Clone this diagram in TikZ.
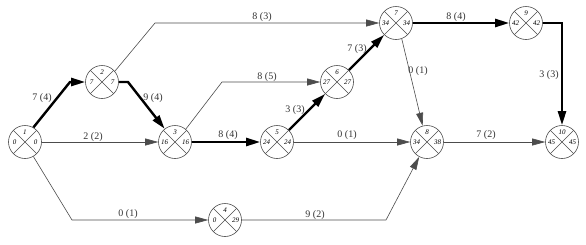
\documentclass[tikz,border=0pt]{standalone}
\usepackage{fontspec}
\setmainfont{Liberation Serif}
\usetikzlibrary{arrows.meta}
\newcommand\evt[5]{%
  \node[ev] (#1) at (#2) {};
  \path (#1) ++(0,-10) node[num] (#1t) {#3};
  \path (#1) ++(-10.5,0.5) node[num] (#1l) {#4};
  \path (#1) ++(10.5,0.5) node[num] (#1r) {#5};
}
\begin{document}
\begin{tikzpicture}[x=1pt,y=-1pt,
  ev/.style={circle,draw=black!70,line width=0.6pt,minimum size=33pt,inner sep=0pt,
    path picture={\draw[black!70,line width=0.5pt]
      (path picture bounding box.north west) -- (path picture bounding box.south east)
      (path picture bounding box.north east) -- (path picture bounding box.south west);}},
  num/.style={font=\fontsize{7}{7}\selectfont\itshape,inner sep=0pt},
  tedge/.style={draw=black!70,line width=0.6pt,-{Triangle[length=13pt,width=7pt]}},
  cedge/.style={draw=black,line width=2.4pt,-{Triangle[length=14pt,width=8pt]}},
  lbl/.style={font=\fontsize{10}{10}\selectfont,text=black!80,inner sep=0pt}
]
\useasboundingbox (0,0) rectangle (586,244);

\evt{n1}{25,142}{1}{0}{0}
\evt{n2}{102,82}{2}{7}{7}
\evt{n3}{175,142}{3}{16}{16}
\evt{n4}{225,220}{4}{0}{29}
\evt{n5}{277,142}{5}{24}{24}
\evt{n6}{337,82}{6}{27}{27}
\evt{n7}{396,23}{7}{34}{34}
\evt{n8}{427,142}{8}{34}{38}
\evt{n9}{526,23}{9}{42}{42}
\evt{n10}{562,142}{10}{45}{45}

\coordinate (c12) at (70,82);
\coordinate (c23) at (128,82);
\coordinate (c27) at (155,23);
\coordinate (c14) at (72,220);
\coordinate (c36) at (222,82);
\coordinate (c48) at (386,220);
\coordinate (c910) at (562,23);

% critical path
\draw[cedge] (n1.60) -- (c12) -- (n2);
\draw[cedge] (n2) -- (c23) -- (n3);
\draw[cedge] (n3) -- (n5);
\draw[cedge] (n5) -- (n6);
\draw[cedge] (n6) -- (n7);
\draw[cedge] (n7) -- (n9);
\draw[cedge] (n9) -- (c910) -- (n10);

% other activities
\draw[tedge] (n2.40) -- (c27) -- (n7);
\draw[tedge] (n1) -- (n3);
\draw[tedge] (n1.-60) -- (c14) -- (n4);
\draw[tedge] (n3.50) -- (c36) -- (n6);
\draw[tedge] (n5) -- (n8);
\draw[tedge] (n4) -- (c48) -- (n8);
\draw[tedge] (n7.-70) -- (n8.105);
\draw[tedge] (n8) -- (n10);

% labels
\node[lbl] (l12) at (42,98) {7 (4)};
\node[lbl] (l23) at (153,98) {9 (4)};
\node[lbl] (l13) at (93,137) {2 (2)};
\node[lbl] (l14) at (128,214) {0 (1)};
\node[lbl] (l27) at (262,17) {8 (3)};
\node[lbl] (l36) at (267,77) {8 (5)};
\node[lbl] (l35) at (228,135) {8 (4)};
\node[lbl] (l56) at (295,110) {3 (3)};
\node[lbl] (l67) at (357,49) {7 (3)};
\node[lbl] (l58) at (347,135) {0 (1)};
\node[lbl] (l48) at (315,215) {9 (2)};
\node[lbl] (l79) at (456,17) {8 (4)};
\node[lbl] (l78) at (418,71) {0 (1)};
\node[lbl] (l910) at (549,75) {3 (3)};
\node[lbl] (l810) at (486,135) {7 (2)};
\end{tikzpicture}
\end{document}
